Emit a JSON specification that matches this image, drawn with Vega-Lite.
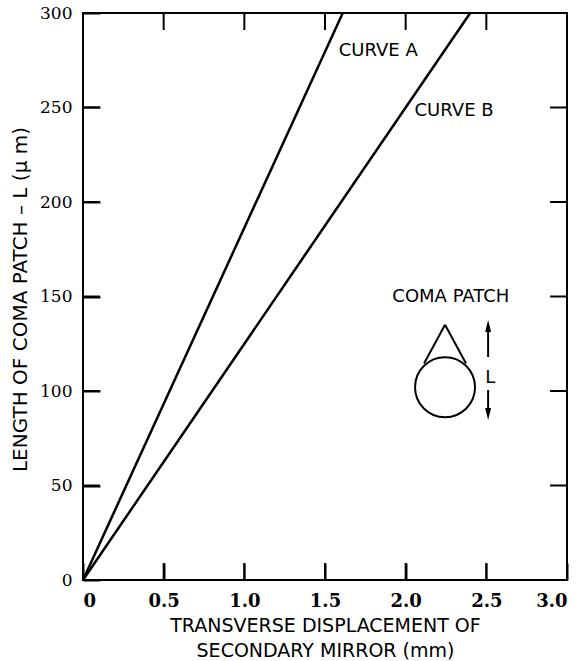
{
  "$schema": "https://vega.github.io/schema/vega-lite/v6.json",
  "width": 484,
  "height": 567,
  "autosize": "none",
  "padding": {"left": 83, "top": 13, "right": 16, "bottom": 81},
  "background": "white",
  "config": {
    "view": {"stroke": "black", "strokeWidth": 2},
    "axis": {
      "grid": false,
      "domain": false,
      "labelColor": "black",
      "titleColor": "black",
      "labelFont": "DejaVu Serif",
      "titleFont": "DejaVu Sans",
      "titleFontWeight": "normal"
    },
    "text": {"font": "DejaVu Sans", "fontSize": 18, "color": "black"}
  },
  "resolve": {"axis": {"x": "independent", "y": "independent"}},
  "layer": [
    {
      "data": {"values": [
        {"curve": "A", "x": 0, "y": 0},
        {"curve": "A", "x": 1.61, "y": 300},
        {"curve": "B", "x": 0, "y": 0},
        {"curve": "B", "x": 2.4, "y": 300}
      ]},
      "mark": {"type": "line", "color": "black", "strokeWidth": 2.5},
      "encoding": {
        "detail": {"field": "curve"},
        "x": {
          "field": "x", "type": "quantitative",
          "scale": {"domain": [0, 3], "nice": false},
          "axis": {
            "orient": "bottom",
            "values": [0, 0.5, 1, 1.5, 2, 2.5, 3],
            "labelExpr": "datum.value == 0 ? '0' : format(datum.value, '.1f')",
            "ticks": true,
            "tickColor": "black",
            "tickWidth": 2,
            "tickSize": -17,
            "labelPadding": 29,
            "labelFontSize": 18,
            "labelFontWeight": "bold",
            "title": ["TRANSVERSE DISPLACEMENT OF", "SECONDARY MIRROR (mm)"],
            "titleFontSize": 19,
            "titleLineHeight": 25,
            "titlePadding": 6
          }
        },
        "y": {
          "field": "y", "type": "quantitative",
          "scale": {"domain": [0, 300], "nice": false},
          "axis": {
            "orient": "left",
            "values": [0, 50, 100, 150, 200, 250, 300],
            "ticks": true,
            "tickColor": "black",
            "tickWidth": 2,
            "tickSize": -17,
            "labelPadding": 28,
            "labelFontSize": 17,
            "title": "LENGTH OF COMA PATCH – L (µ m)",
            "titleFontSize": 20,
            "titleX": -63,
            "titleY": 286,
            "titleBaseline": "middle"
          }
        }
      }
    },
    {
      "data": {"values": [
        {"t": "CURVE A", "x": 1.83, "y": 280},
        {"t": "CURVE B", "x": 2.30, "y": 248},
        {"t": "COMA PATCH", "x": 2.28, "y": 150},
        {"t": "L", "x": 2.525, "y": 107}
      ]},
      "mark": {"type": "text", "align": "center", "baseline": "middle"},
      "encoding": {
        "text": {"field": "t"},
        "x": {"field": "x", "type": "quantitative", "axis": null},
        "y": {"field": "y", "type": "quantitative", "axis": null}
      }
    },
    {
      "data": {"values": [
        {"x": 0.5, "y": 0, "x2": 0.5, "y2": 9}, {"x": 1.0, "y": 0, "x2": 1.0, "y2": 9},
        {"x": 1.5, "y": 0, "x2": 1.5, "y2": 9}, {"x": 2.0, "y": 0, "x2": 2.0, "y2": 9},
        {"x": 2.5, "y": 0, "x2": 2.5, "y2": 9},
        {"x": 0.5, "y": 300, "x2": 0.5, "y2": 291}, {"x": 1.0, "y": 300, "x2": 1.0, "y2": 291},
        {"x": 1.5, "y": 300, "x2": 1.5, "y2": 291}, {"x": 2.0, "y": 300, "x2": 2.0, "y2": 291},
        {"x": 2.5, "y": 300, "x2": 2.5, "y2": 291},
        {"x": 0, "y": 50, "x2": 0.105, "y2": 50}, {"x": 0, "y": 100, "x2": 0.105, "y2": 100},
        {"x": 0, "y": 150, "x2": 0.105, "y2": 150}, {"x": 0, "y": 200, "x2": 0.105, "y2": 200},
        {"x": 0, "y": 250, "x2": 0.105, "y2": 250},
        {"x": 3, "y": 50, "x2": 2.895, "y2": 50}, {"x": 3, "y": 100, "x2": 2.895, "y2": 100},
        {"x": 3, "y": 150, "x2": 2.895, "y2": 150}, {"x": 3, "y": 200, "x2": 2.895, "y2": 200},
        {"x": 3, "y": 250, "x2": 2.895, "y2": 250}
      ]},
      "mark": {"type": "rule", "color": "black", "strokeWidth": 2},
      "encoding": {
        "x": {"field": "x", "type": "quantitative", "axis": null},
        "y": {"field": "y", "type": "quantitative", "axis": null},
        "x2": {"field": "x2"},
        "y2": {"field": "y2"}
      }
    },
    {
      "data": {"values": [{"x": 2.244, "y": 102}]},
      "mark": {"type": "point", "shape": "circle", "size": 3600, "filled": false, "stroke": "black", "strokeWidth": 2, "opacity": 1},
      "encoding": {
        "x": {"field": "x", "type": "quantitative", "axis": null},
        "y": {"field": "y", "type": "quantitative", "axis": null}
      }
    },
    {
      "data": {"values": [
        {"x": 2.244, "y": 135, "x2": 2.114, "y2": 114.5},
        {"x": 2.244, "y": 135, "x2": 2.374, "y2": 114.5},
        {"x": 2.511, "y": 118, "x2": 2.511, "y2": 134.4},
        {"x": 2.511, "y": 100.5, "x2": 2.511, "y2": 87.8}
      ]},
      "mark": {"type": "rule", "color": "black", "strokeWidth": 2},
      "encoding": {
        "x": {"field": "x", "type": "quantitative", "axis": null},
        "y": {"field": "y", "type": "quantitative", "axis": null},
        "x2": {"field": "x2"},
        "y2": {"field": "y2"}
      }
    },
    {
      "data": {"values": [
        {"x": 2.511, "y": 134.4, "dir": "up"},
        {"x": 2.511, "y": 87.8, "dir": "down"}
      ]},
      "mark": {"type": "point", "filled": true, "color": "black", "size": 144, "opacity": 1},
      "encoding": {
        "x": {"field": "x", "type": "quantitative", "axis": null},
        "y": {"field": "y", "type": "quantitative", "axis": null},
        "shape": {
          "field": "dir", "type": "nominal",
          "scale": {"domain": ["up", "down"], "range": ["M0,-1L0.5,1L-0.5,1Z", "M0,1L0.5,-1L-0.5,-1Z"]},
          "legend": null
        }
      }
    }
  ]
}
